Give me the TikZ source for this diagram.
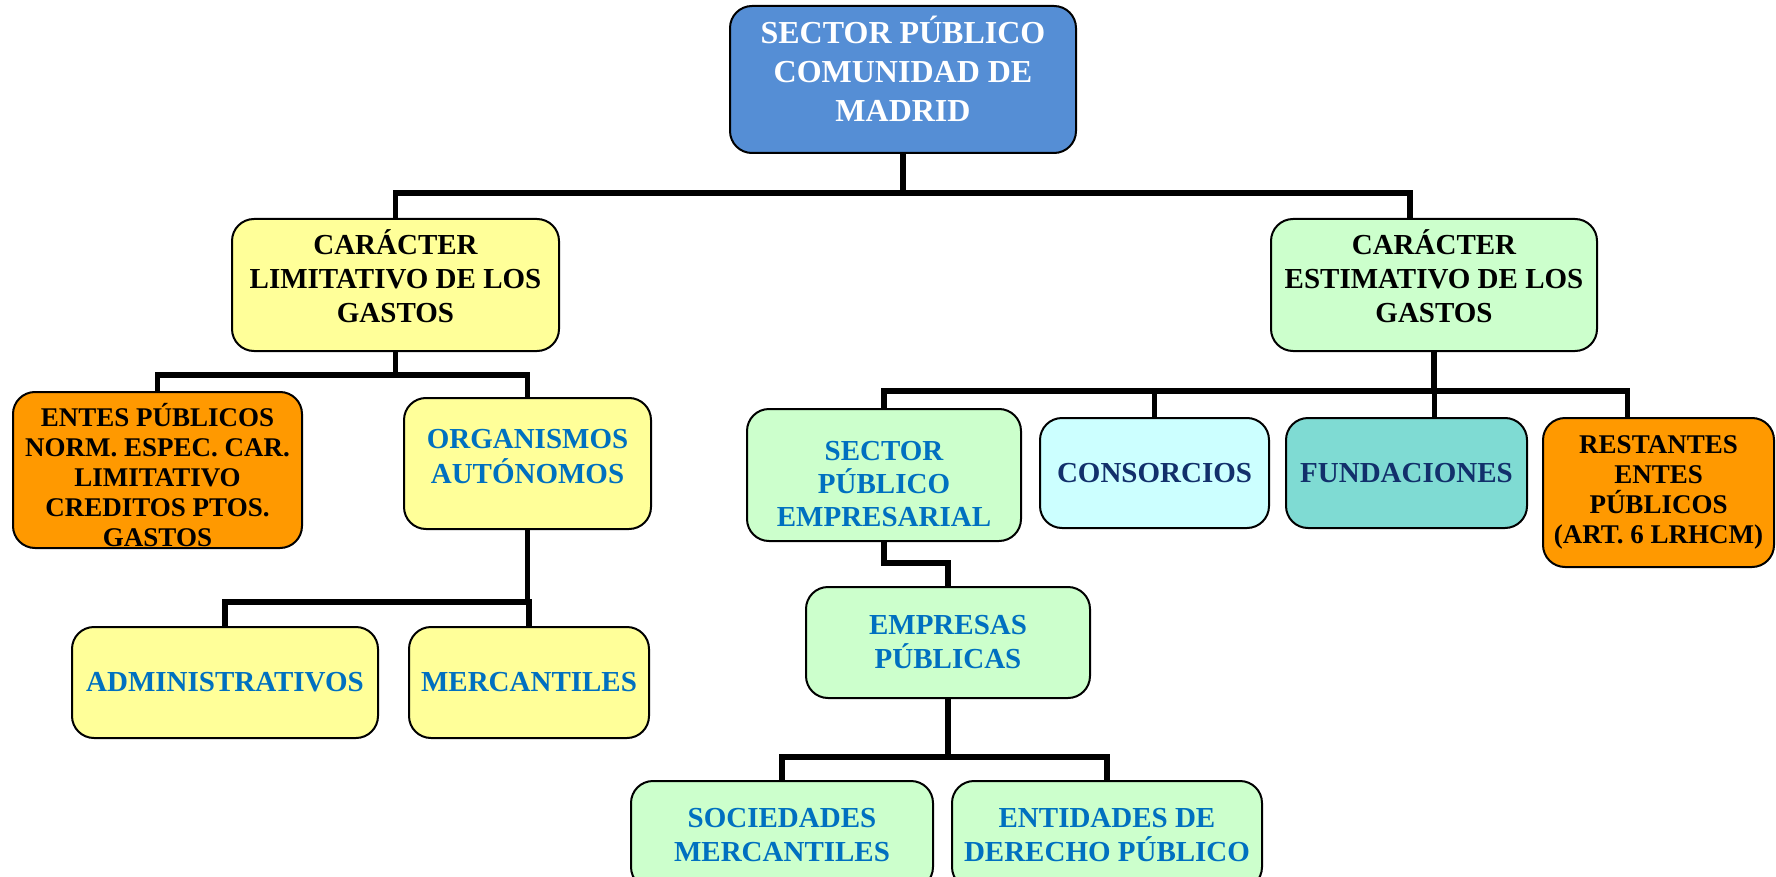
\documentclass[tikz,border=0pt]{standalone}
\usepackage{fontspec}
\setmainfont{Liberation Serif}
\definecolor{rootblue}{HTML}{558ED5}
\definecolor{boxyellow}{HTML}{FFFF99}
\definecolor{boxgreen}{HTML}{CCFFCC}
\definecolor{boxorange}{HTML}{FF9900}
\definecolor{boxcyan}{HTML}{CCFFFF}
\definecolor{boxteal}{HTML}{7FDBD3}
\definecolor{txtblue}{HTML}{0070C0}
\definecolor{txtnavy}{HTML}{12306B}

\begin{document}
\begin{tikzpicture}[x=0.5pt,y=-0.5pt]
      \clip (0,0) rectangle (1776,877);
      \coordinate (j1) at (0,193);
      \coordinate (j2) at (0,375);
      \coordinate (j3) at (0,602);
      \coordinate (j4) at (0,391);
      \coordinate (j5) at (0,563);
      \coordinate (j6) at (0,757);
      \begin{scope}[every node/.style={draw,line width=1pt,rounded corners=11pt,align=center,inner sep=2pt,font=\bfseries\fontsize{14.5}{17}\selectfont}]
        \node[fill=rootblue,text=white,minimum width=173pt,minimum height=73.5pt,font=\bfseries\fontsize{16}{19.5}\selectfont] (root) at (903,79.5) {SECTOR PÚBLICO\\COMUNIDAD DE\\MADRID\\[-8.5pt]\mbox{}};
        \node[fill=boxyellow,minimum width=163.5pt,minimum height=66pt] (lim) at (395.5,285) {CARÁCTER\\LIMITATIVO DE LOS\\GASTOS\\[-8pt]\mbox{}};
        \node[fill=boxgreen,minimum width=163pt,minimum height=66pt] (est) at (1434,285) {CARÁCTER\\ESTIMATIVO DE LOS\\GASTOS\\[-8pt]\mbox{}};
        \node[fill=boxorange,inner ysep=0pt,minimum width=144.5pt,minimum height=78pt,font=\bfseries\fontsize{13.5}{15}\selectfont] (entes) at (157.5,470) {\mbox{}\\[2pt]ENTES PÚBLICOS\\NORM. ESPEC. CAR.\\LIMITATIVO\\CREDITOS PTOS.\\GASTOS};
        \node[fill=boxyellow,text=txtblue,minimum width=123.5pt,minimum height=65.5pt,font=\bfseries\fontsize{14.5}{17.5}\selectfont] (org) at (527.5,463.5) {ORGANISMOS\\AUTÓNOMOS\\[-10pt]\mbox{}};
        \node[fill=boxyellow,text=txtblue,minimum width=153pt,minimum height=55.5pt] (admin) at (225,682.5) {ADMINISTRATIVOS};
        \node[fill=boxyellow,text=txtblue,minimum width=120pt,minimum height=55.5pt] (merc) at (529,682.5) {MERCANTILES};
        \node[fill=boxgreen,text=txtblue,minimum width=137pt,minimum height=66pt,font=\bfseries\fontsize{14.5}{16.5}\selectfont] (spe) at (884,475) {\mbox{}\\[2pt]SECTOR\\PÚBLICO\\EMPRESARIAL};
        \node[fill=boxcyan,text=txtnavy,minimum width=114.5pt,minimum height=55pt] (cons) at (1154.5,473) {CONSORCIOS};
        \node[fill=boxteal,text=txtnavy,minimum width=120.5pt,minimum height=55pt] (fund) at (1406.5,473) {FUNDACIONES};
        \node[fill=boxorange,minimum width=115.5pt,minimum height=74.5pt,font=\bfseries\fontsize{13.5}{15}\selectfont] (rest) at (1658.5,492.5) {RESTANTES\\ENTES\\PÚBLICOS\\(ART. 6 LRHCM)};
        \node[fill=boxgreen,text=txtblue,minimum width=142pt,minimum height=55.5pt] (emp) at (948,642.5) {EMPRESAS\\PÚBLICAS};
        \node[fill=boxgreen,text=txtblue,minimum width=151pt,minimum height=54pt] (soc) at (782,835) {SOCIEDADES\\MERCANTILES};
        \node[fill=boxgreen,text=txtblue,minimum width=155pt,minimum height=54pt] (ent) at (1107,835) {ENTIDADES DE\\DERECHO PÚBLICO};
      \end{scope}
      \begin{scope}[line width=2.6pt]
        \draw (root.south) -- (root.south |- j1);
        \draw (root.south |- j1) -| (lim.north);
        \draw (root.south |- j1) -| ([xshift=-12pt]est.north);
        \draw (lim.south) -- (lim.south |- j2);
        \draw (lim.south |- j2) -| (entes.north);
        \draw (lim.south |- j2) -| (org.north);
        \draw (org.south) -- (org.south |- j3);
        \draw (org.south |- j3) -| (admin.north);
        \draw (org.south |- j3) -| (merc.north);
        \draw (est.south) -- (est.south |- j4);
        \draw (est.south |- j4) -| (spe.north);
        \draw (est.south |- j4) -| (cons.north);
        \draw (est.south |- j4) -| ([xshift=14pt]fund.north);
        \draw (est.south |- j4) -| ([xshift=-15.5pt]rest.north);
        \draw (spe.south) -- (spe.south |- j5) -| (emp.north);
        \draw (emp.south) -- (emp.south |- j6);
        \draw (emp.south |- j6) -| (soc.north);
        \draw (emp.south |- j6) -| (ent.north);
      \end{scope}
    \end{tikzpicture}
\end{document}
